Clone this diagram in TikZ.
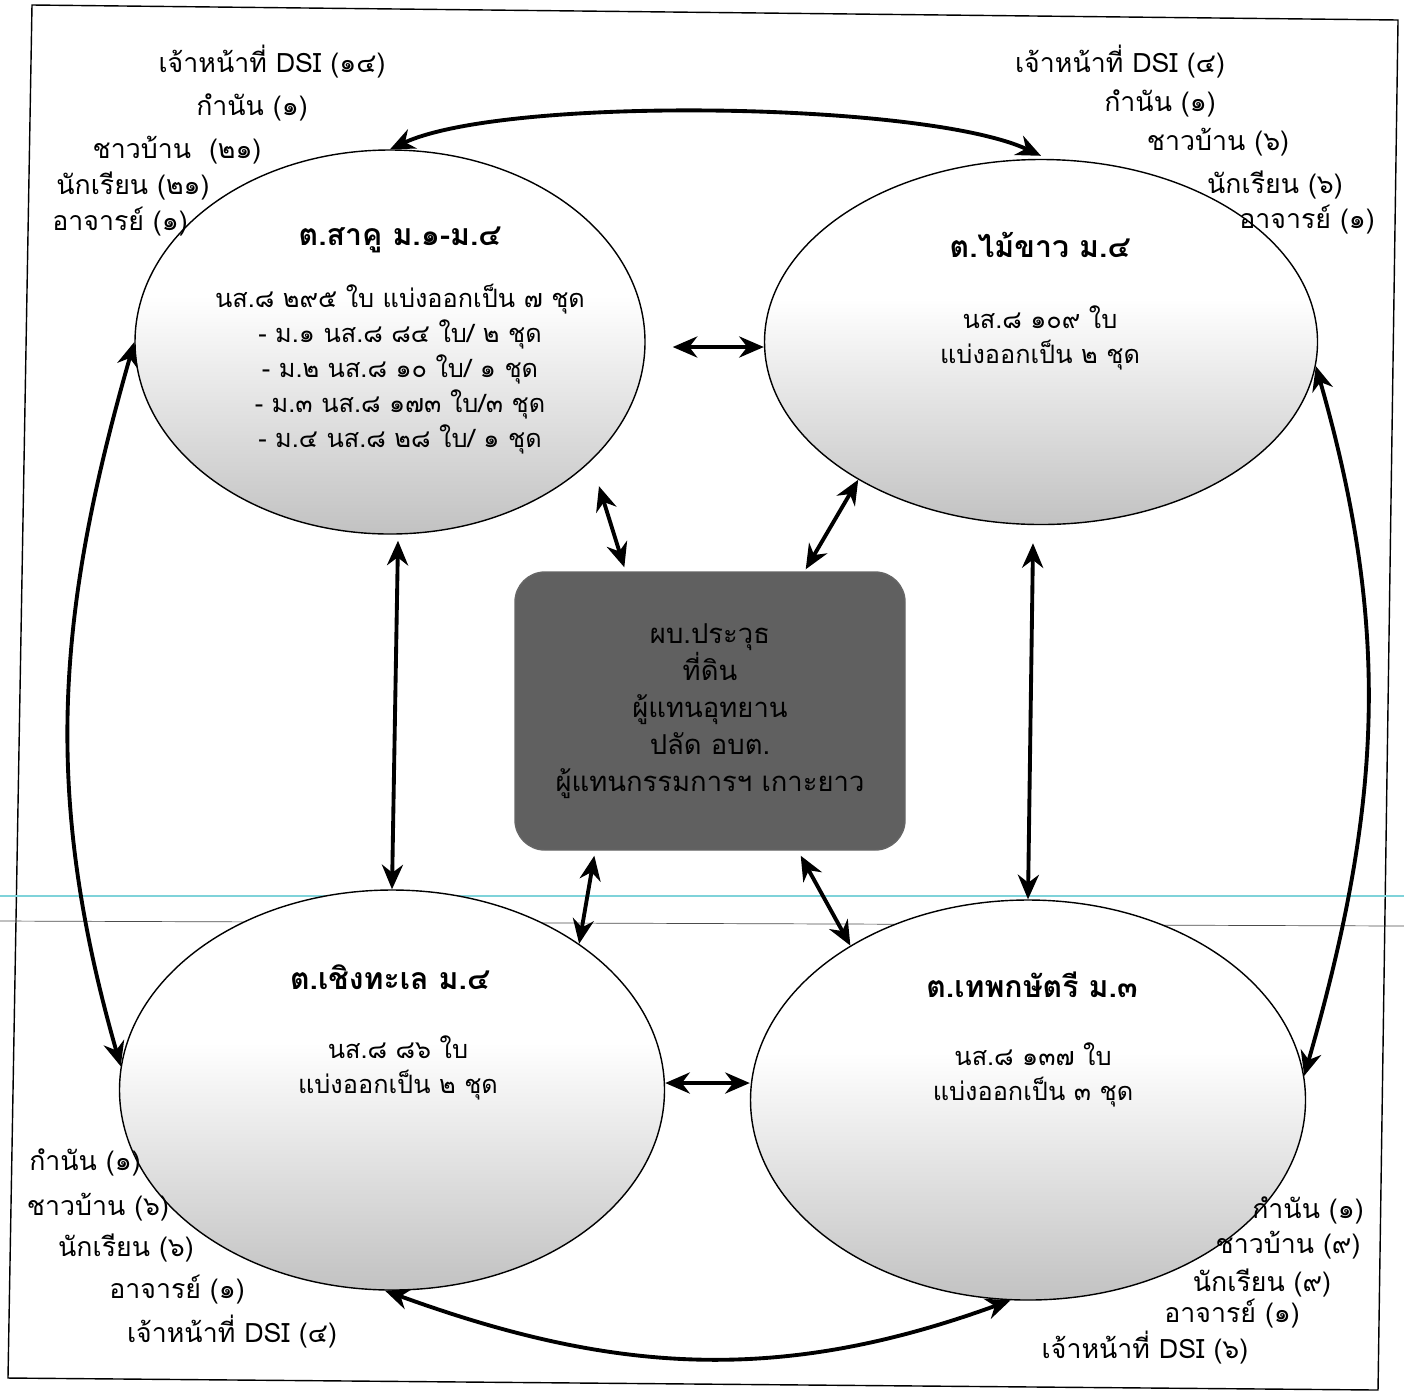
\documentclass[tikz,border=0pt]{standalone}
\usepackage{fontspec}
\newfontfamily\thaifont[Script=Thai]{Loma}
\usetikzlibrary{shapes.geometric,arrows.meta}
\definecolor{boxgray}{HTML}{606060}
\definecolor{scanline}{HTML}{7FD3DA}
\pgfdeclareverticalshading{zonefade}{100bp}{color(0bp)=(black!26); color(25bp)=(black!24);
  color(56bp)=(white); color(100bp)=(white)}

\begin{document}
\begin{tikzpicture}[
    every node/.style={font=\thaifont\fontsize{7.6}{9}\selectfont},
    zone/.style={ellipse,draw,thin,shading=zonefade,inner sep=0pt},
    panel/.style={rounded corners=3mm,draw=black!60,fill=boxgray,text=black,
      minimum width=3.9cm,minimum height=2.78cm,align=center,
      font=\thaifont\fontsize{7.8}{10.5}\selectfont},
    lbl/.style={inner sep=0pt},
    body/.style={align=center,inner sep=0pt,font=\thaifont\fontsize{7.2}{10}\selectfont},
    title/.style={inner sep=0pt,font=\thaifont\bfseries\fontsize{8.6}{10}\selectfont},
    link/.style={<->,>={Stealth[length=7pt,width=6pt]},line width=1.1pt}]
  \useasboundingbox (0,0) rectangle (14.04,-13.94);
  % page frame and scan lines
  \draw[thin] (0.32,-0.05) -- (13.98,-0.20) -- (13.78,-13.90) -- (0.08,-13.78) -- cycle;
  \draw[scanline,thin] (0,-8.96) -- (14.04,-8.96);
  \draw[black!70,very thin] (0,-9.21) -- (14.04,-9.26);

  % the four areas and the meeting
  \node[zone,minimum width=5.1cm,minimum height=3.84cm] (sakhu) at (3.90,-3.42) {};
  \node[zone,minimum width=5.53cm,minimum height=3.65cm] (maikhao) at (10.41,-3.42) {};
  \node[zone,minimum width=5.45cm,minimum height=4.0cm] (chiang) at (3.92,-10.90) {};
  \node[zone,minimum width=5.55cm,minimum height=4.0cm] (thep) at (10.28,-11.00) {};
  \node[panel] (meet) at (7.10,-7.11)
    {ผบ.ประวุธ\\ที่ดิน\\ผู้แทนอุทยาน\\ปลัด อบต.\\ผู้แทนกรรมการฯ เกาะยาว};

  \draw
    (4.00,-2.40) node[title] (sakhuT){ต.สาคู ม.๑-ม.๔}
    (4.00,-3.69) node[body] (sakhuB){นส.๘ ๒๙๕ ใบ แบ่งออกเป็น ๗ ชุด\\
      - ม.๑ นส.๘ ๘๔ ใบ/ ๒ ชุด\\- ม.๒ นส.๘ ๑๐ ใบ/ ๑ ชุด\\
      - ม.๓ นส.๘ ๑๗๓ ใบ/๓ ชุด\\- ม.๔ นส.๘ ๒๘ ใบ/ ๑ ชุด}
    (10.40,-2.45) node[title] (maikhaoT){ต.ไม้ขาว ม.๔}
    (10.40,-3.38) node[body] (maikhaoB){นส.๘ ๑๐๙ ใบ\\แบ่งออกเป็น ๒ ชุด}
    (3.90,-9.77) node[title] (chiangT){ต.เชิงทะเล ม.๔}
    (3.98,-10.68) node[body] (chiangB){นส.๘ ๘๖ ใบ\\แบ่งออกเป็น ๒ ชุด}
    (10.32,-9.85) node[title] (thepT){ต.เทพกษัตรี ม.๓}
    (10.33,-10.75) node[body] (thepB){นส.๘ ๑๓๗ ใบ\\แบ่งออกเป็น ๓ ชุด};

  % people of each area
  \draw
    (2.72,-0.62) node[lbl] (a1){เจ้าหน้าที่ DSI (๑๔)}
    (2.52,-1.07) node[lbl] (a2){กำนัน (๑)}
    (1.77,-1.50) node[lbl] (a3){ชาวบ้าน\ \ (๒๑)}
    (1.33,-1.86) node[lbl] (a4){นักเรียน (๒๑)}
    (1.20,-2.22) node[lbl] (a5){อาจารย์ (๑)}
    (11.20,-0.62) node[lbl] (b1){เจ้าหน้าที่ DSI (๔)}
    (11.60,-1.03) node[lbl] (b2){กำนัน (๑)}
    (12.18,-1.42) node[lbl] (b3){ชาวบ้าน (๖)}
    (12.75,-1.85) node[lbl] (b4){นักเรียน (๖)}
    (13.07,-2.20) node[lbl] (b5){อาจารย์ (๑)}
    (0.85,-11.62) node[lbl] (c1){กำนัน (๑)}
    (0.98,-12.07) node[lbl] (c2){ชาวบ้าน (๖)}
    (1.26,-12.48) node[lbl] (c3){นักเรียน (๖)}
    (1.77,-12.90) node[lbl] (c4){อาจารย์ (๑)}
    (2.32,-13.32) node[lbl] (c5){เจ้าหน้าที่ DSI (๔)}
    (13.08,-12.10) node[lbl] (d1){กำนัน (๑)}
    (12.88,-12.45) node[lbl] (d2){ชาวบ้าน (๙)}
    (12.62,-12.83) node[lbl] (d3){นักเรียน (๙)}
    (12.32,-13.14) node[lbl] (d4){อาจารย์ (๑)}
    (11.45,-13.48) node[lbl] (d5){เจ้าหน้าที่ DSI (๖)};

  \begin{scope}[link]
    \draw (sakhu.north) to[out=25,in=155,looseness=0.5] ([yshift=0.03cm]maikhao.north);
    \draw (sakhu.west) to[out=254,in=106] (chiang.175);
    \draw (maikhao.-5) to[out=-74,in=74] (thep.5);
    \draw (chiang.-92) to[out=-20,in=200] (thep.-95);
    \draw ([xshift=2.7mm,yshift=-0.5mm]sakhu.east) -- ([yshift=-0.5mm]maikhao.west);
    \draw ([yshift=0.7mm]chiang.east) -- ([yshift=1.7mm]thep.west);
    \draw ([xshift=0.8mm,yshift=-0.6mm]sakhu.south) -- (chiang.north);
    \draw ([xshift=-0.8mm,yshift=-1.8mm]maikhao.south) -- (thep.north);
    \draw ([shift={(0.06,-0.27)}]sakhu.-30) -- ([xshift=1.1cm,yshift=0.04cm]meet.north west);
    \draw (maikhao.217) -- ([xshift=-1.0cm,yshift=0.02cm]meet.north east);
    \draw ([xshift=0.8cm,yshift=-0.05cm]meet.south west) -- (chiang.38);
    \draw ([xshift=-1.05cm,yshift=-0.05cm]meet.south east) -- (thep.139);
  \end{scope}
\end{tikzpicture}
\end{document}
